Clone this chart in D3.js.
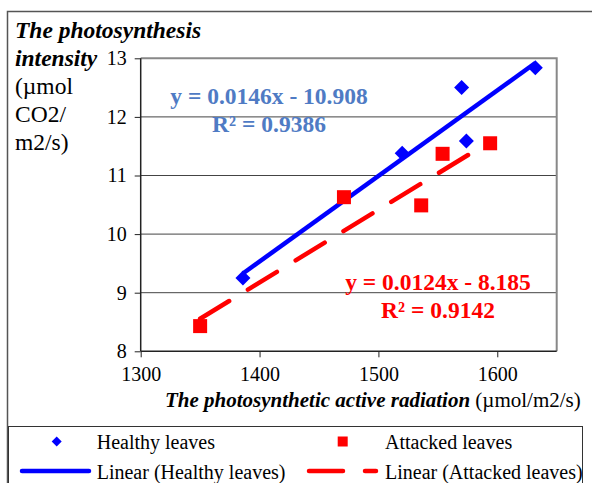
<!DOCTYPE html>
<html><head><meta charset="utf-8">
<script src="https://cdn.jsdelivr.net/npm/d3@7"></script>
<style>body{margin:0;background:#fff}svg{display:block}text{font-family:"Liberation Serif","Times New Roman",serif}</style>
</head><body>
<script>
const healthyX = [1386, 1520, 1570, 1574, 1632];
const healthyY = [9.25, 11.38, 12.50, 11.59, 12.84];
const attackedX = [1350, 1471, 1536, 1554, 1594];
const attackedY = [8.43, 10.63, 10.49, 11.37, 11.55];
const trendSlope = [0.0146, 0.0124];
const trendIntercept = [-10.908, -8.185];
const eqLabels = [["y = 0.0146x - 10.908", "R² = 0.9386"], ["y = 0.0124x - 8.185", "R² = 0.9142"]];
const xTicks = [1300, 1400, 1500, 1600];
const yTicks = [8, 9, 10, 11, 12, 13];
const seriesNames = ["Healthy leaves", "Attacked leaves"];
const legendLabels = ["Healthy leaves", "Attacked leaves", "Linear (Healthy leaves)", "Linear (Attacked leaves)"];
const yTitleLines = [["The photosynthesis", true], ["intensity", true], ["(µmol", false], ["CO2/", false], ["m2/s)", false]];

const W = 592, H = 483;
const L = 140.7, R = 556.7, T = 58.3, B = 351.3;
const svg = d3.select("body").append("svg").attr("width", W).attr("height", H);

const x = d3.scaleLinear().domain([1300, 1650]).range([L, R]);
const y = d3.scaleLinear().domain([8, 13]).range([B, T]);

// outer chart border
svg.append("rect").attr("x", 7.5).attr("y", 11.5).attr("width", 600).attr("height", 500)
  .attr("fill", "none").attr("stroke", "#555").attr("stroke-width", 1.5);

// gridlines
svg.append("g").selectAll("line").data(yTicks.slice(1, -1)).join("line")
  .attr("x1", L).attr("x2", R).attr("y1", d => y(d)).attr("y2", d => y(d))
  .attr("stroke", "#444").attr("stroke-width", 1);
// plot border top/right
svg.append("path").attr("d", `M${L},${T}H${R}V${B}`).attr("fill", "none")
  .attr("stroke", "#888").attr("stroke-width", 2);

// axes
const yAxis = d3.axisLeft(y).tickValues(yTicks).tickSize(6).tickPadding(8).tickFormat(d3.format("d"));
const gy = svg.append("g").attr("transform", `translate(${L},0)`).call(yAxis);
const xAxis = d3.axisBottom(x).tickValues(xTicks).tickSize(6).tickPadding(10).tickFormat(d3.format("d"));
const gx = svg.append("g").attr("transform", `translate(0,${B})`).call(xAxis);
[gx, gy].forEach(g => {
  g.select(".domain").attr("stroke", "#222").attr("stroke-width", 1.5);
  g.selectAll(".tick line").attr("stroke", "#222");
  g.selectAll(".tick text").attr("font-size", 20).attr("fill", "#000")
    .style("font-family", '"Liberation Serif","Times New Roman",serif');
});
gx.select(".domain").attr("d", `M${L},0H${R}`);
gy.select(".domain").attr("d", `M0,${B}V${T}`);

// trend lines
const seriesX = [healthyX, attackedX];
const colors = ["#0000FF", "#FF0000"];
seriesX.forEach((xs, i) => {
  const x0 = d3.min(xs), x1 = d3.max(xs);
  svg.append("line")
    .attr("x1", x(x0)).attr("y1", y(trendSlope[i] * x0 + trendIntercept[i]))
    .attr("x2", x(x1)).attr("y2", y(trendSlope[i] * x1 + trendIntercept[i]))
    .attr("stroke", colors[i]).attr("stroke-width", 4.5)
    .attr("stroke-linecap", i === 0 ? "butt" : "round")
    .attr("stroke-dasharray", i === 0 ? null : "34,22");
});

// markers
const diamond = (cx, cy, r) => `M${cx},${cy - r}L${cx + r},${cy}L${cx},${cy + r}L${cx - r},${cy}Z`;
svg.append("g").selectAll("path").data(d3.zip(healthyX, healthyY)).join("path")
  .attr("d", d => diamond(x(d[0]), y(d[1]), 7.5)).attr("fill", "#0000FF");
svg.append("g").selectAll("rect").data(d3.zip(attackedX, attackedY)).join("rect")
  .attr("x", d => x(d[0]) - 7).attr("y", d => y(d[1]) - 7).attr("width", 14).attr("height", 14)
  .attr("fill", "#FF0000");

// equations
const eqPos = [[269, 104, 132.3], [438, 290, 318.3]];
const eqColors = ["#4F7BC4", "#FF0000"];
eqLabels.forEach((lines, i) => {
  lines.forEach((t, j) => {
    svg.append("text").attr("x", eqPos[i][0]).attr("y", eqPos[i][1 + j])
      .attr("text-anchor", "middle").attr("font-size", 23.5).attr("font-weight", "bold")
      .attr("fill", eqColors[i]).text(t);
  });
});

// y title
yTitleLines.forEach((ln, k) => {
  svg.append("text").attr("x", 15).attr("y", 37.5 + k * 28.2)
    .attr("font-size", 23.5).attr("font-weight", ln[1] ? "bold" : "normal")
    .attr("font-style", ln[1] ? "italic" : "normal").attr("fill", "#000").text(ln[0]);
});

// x title
const xt = svg.append("text").attr("x", 165).attr("y", 406.7).attr("font-size", 21).attr("fill", "#000");
xt.append("tspan").attr("font-weight", "bold").attr("font-style", "italic").text("The photosynthetic active radiation");
xt.append("tspan").text(" (µmol/m2/s)");

// legend
svg.append("rect").attr("x", 8.5).attr("y", 426.5).attr("width", 574).attr("height", 80)
  .attr("fill", "#fff").attr("stroke", "#333").attr("stroke-width", 1);
const lg = svg.append("g");
lg.append("path").attr("d", diamond(56.7, 441.5, 5)).attr("fill", "#0000FF");
lg.append("rect").attr("x", 337.7).attr("y", 436.5).attr("width", 10).attr("height", 10).attr("fill", "#FF0000");
lg.append("line").attr("x1", 22).attr("x2", 89).attr("y1", 471).attr("y2", 471)
  .attr("stroke", "#0000FF").attr("stroke-width", 4.5).attr("stroke-linecap", "round");
lg.append("line").attr("x1", 309).attr("x2", 376).attr("y1", 471).attr("y2", 471)
  .attr("stroke", "#FF0000").attr("stroke-width", 4.5).attr("stroke-linecap", "round")
  .attr("stroke-dasharray", "34,22");
const legPos = [[96.7, 448.5], [385, 448.5], [96.7, 478.5], [385, 478.5]];
legendLabels.forEach((t, i) => {
  lg.append("text").attr("x", legPos[i][0]).attr("y", legPos[i][1]).attr("font-size", 20)
    .attr("fill", "#000").text(t);
});
</script>
</body></html>
